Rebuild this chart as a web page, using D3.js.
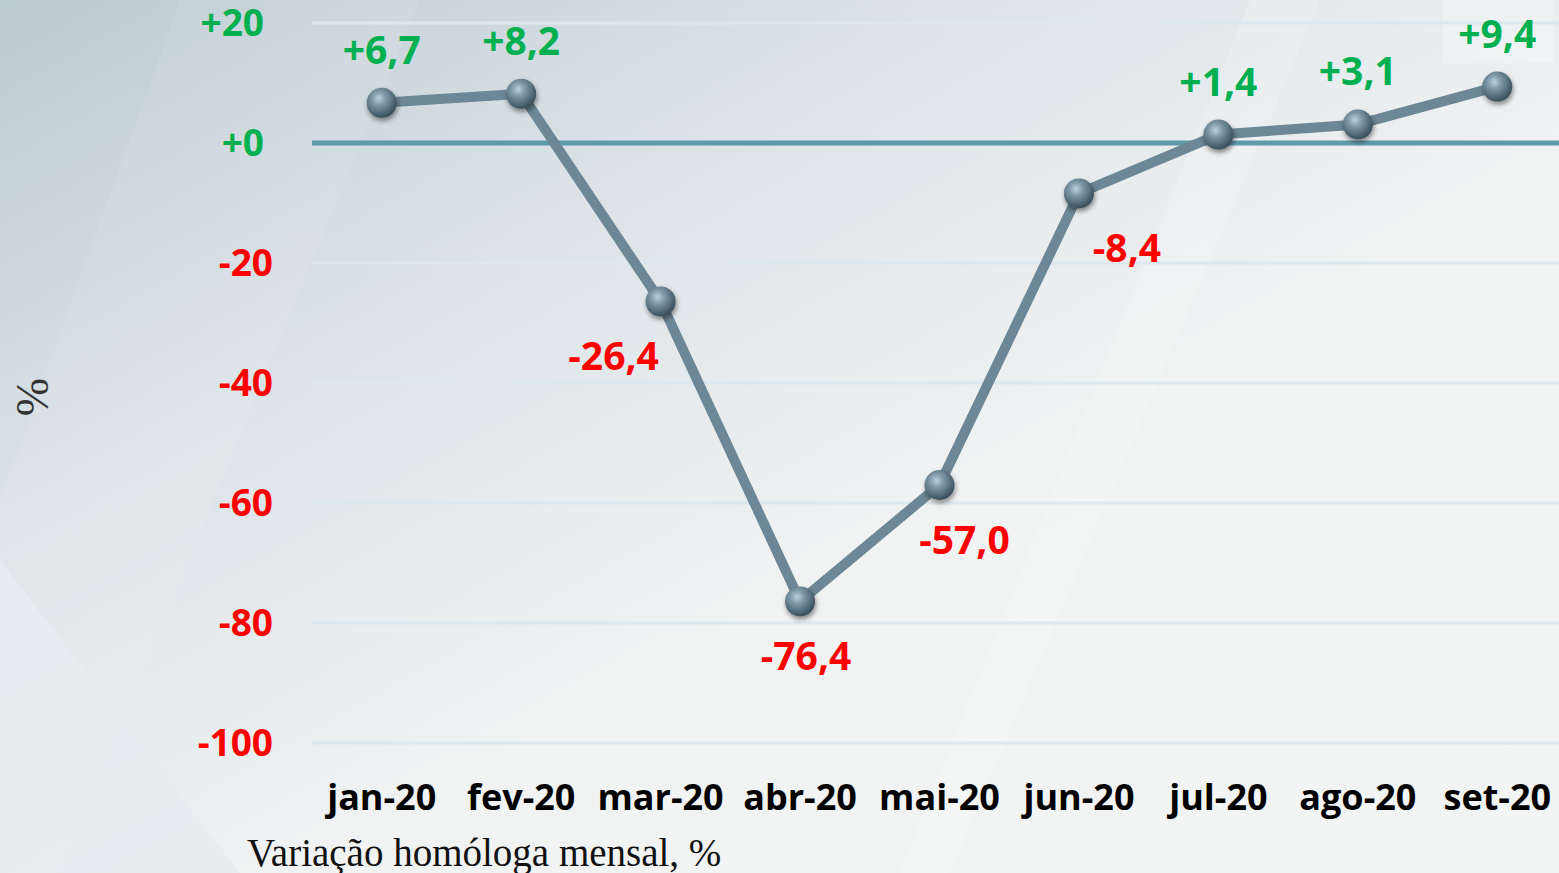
<!DOCTYPE html>
<html>
<head>
<meta charset="utf-8">
<script src="https://cdn.jsdelivr.net/npm/d3@7"></script>
<style>
body { margin: 0; overflow: hidden; }
svg { display: block; }
</style>
</head>
<body>
<svg width="1559" height="873"></svg>
<script>
var months = ["jan-20", "fev-20", "mar-20", "abr-20", "mai-20", "jun-20", "jul-20", "ago-20", "set-20"];
var values = [6.7, 8.2, -26.4, -76.4, -57.0, -8.4, 1.4, 3.1, 9.4];
var yTicks = [20, 0, -20, -40, -60, -80, -100];
// label nudges (layout only)
var labelDx = [0, 0, -47, 6, 25, 48, 0, 0, 0];

var svg = d3.select("svg"),
    W = +svg.attr("width"),
    H = +svg.attr("height");

var defs = svg.append("defs");

var bg = defs.append("linearGradient").attr("id", "bg")
  .attr("x1", "0%").attr("y1", "0%").attr("x2", "100%").attr("y2", "100%");
bg.append("stop").attr("offset", "0%").attr("stop-color", "#bccad2");
bg.append("stop").attr("offset", "30%").attr("stop-color", "#dbe3e7");
bg.append("stop").attr("offset", "60%").attr("stop-color", "#f1f3f3");
bg.append("stop").attr("offset", "100%").attr("stop-color", "#f3f4f4");

var ball = defs.append("radialGradient").attr("id", "ball")
  .attr("cx", "40%").attr("cy", "35%").attr("r", "65%");
ball.append("stop").attr("offset", "0%").attr("stop-color", "#b9d2dc");
ball.append("stop").attr("offset", "35%").attr("stop-color", "#7f9aa7");
ball.append("stop").attr("offset", "80%").attr("stop-color", "#4e6673");
ball.append("stop").attr("offset", "100%").attr("stop-color", "#3a4f5a");

var sh = defs.append("filter").attr("id", "shadow")
  .attr("x", "-50%").attr("y", "-50%").attr("width", "200%").attr("height", "200%");
sh.append("feDropShadow").attr("dx", 1).attr("dy", 3).attr("stdDeviation", 2.5)
  .attr("flood-color", "#000").attr("flood-opacity", 0.45);

svg.append("rect").attr("width", W).attr("height", H).attr("fill", "url(#bg)");
// soft streaks in the backdrop
svg.append("path").attr("d", "M0,560 L240,873 L0,873 Z").attr("fill", "#e6ecef").attr("opacity", 0.7);
svg.append("path").attr("d", "M180,0 L420,0 L60,873 L0,873 L0,500 Z").attr("fill", "#ffffff").attr("opacity", 0.08);
svg.append("path").attr("d", "M1250,0 L1320,0 L950,873 L900,873 Z").attr("fill", "#ffffff").attr("opacity", 0.18);
svg.append("rect").attr("x", 1443).attr("y", 0).attr("width", 110).attr("height", 63)
  .attr("fill", "#ffffff").attr("opacity", 0.25);

var x = d3.scaleBand().domain(months).range([312, 1567]);
var y = d3.scaleLinear().domain([-100, 20]).range([743, 23]);
function cx(d) { return x(d) + x.bandwidth() / 2; }

// grid
svg.append("g").selectAll("line")
  .data(yTicks.filter(function(t) { return t !== 0; }))
  .enter().append("line")
  .attr("x1", 312).attr("x2", W)
  .attr("y1", function(d) { return y(d); })
  .attr("y2", function(d) { return y(d); })
  .attr("stroke", "#dde8ee").attr("stroke-width", 3);

svg.append("line")
  .attr("x1", 312).attr("x2", W)
  .attr("y1", y(0)).attr("y2", y(0))
  .attr("stroke", "#5f9aab").attr("stroke-width", 5);

// y labels
svg.append("g").selectAll("text")
  .data(yTicks).enter().append("text")
  .attr("x", function(d) { return d >= 0 ? 264 : 273; })
  .attr("y", function(d) { return y(d) + 13; })
  .attr("text-anchor", "end")
  .attr("font-family", "Open Sans, sans-serif").attr("font-weight", 700)
  .attr("font-size", 37)
  .attr("fill", function(d) { return d >= 0 ? "#00b050" : "#ff0000"; })
  .text(function(d) { return (d >= 0 ? "+" : "") + d; });

// x labels
svg.append("g").selectAll("text")
  .data(months).enter().append("text")
  .attr("x", function(d) { return cx(d); })
  .attr("y", 810)
  .attr("text-anchor", "middle")
  .attr("font-family", "Open Sans, sans-serif").attr("font-weight", 700)
  .attr("font-size", 36).attr("fill", "#000")
  .text(function(d) { return d; });

// line
var line = d3.line()
  .x(function(d, i) { return cx(months[i]); })
  .y(function(d) { return y(d); });

svg.append("path").datum(values)
  .attr("d", line).attr("fill", "none")
  .attr("stroke", "#6c8795").attr("stroke-width", 10)
  .attr("stroke-linejoin", "round");

svg.append("g").selectAll("circle")
  .data(values).enter().append("circle")
  .attr("cx", function(d, i) { return cx(months[i]); })
  .attr("cy", function(d) { return y(d); })
  .attr("r", 15)
  .attr("fill", "url(#ball)")
  .attr("filter", "url(#shadow)");

// value labels
var fmt = function(v) {
  return (v >= 0 ? "+" : "-") + Math.abs(v).toFixed(1).replace(".", ",");
};
svg.append("g").selectAll("text")
  .data(values).enter().append("text")
  .attr("x", function(d, i) { return cx(months[i]) + labelDx[i]; })
  .attr("y", function(d) { return d >= 0 ? y(d) - 39 : y(d) + 69; })
  .attr("text-anchor", "middle")
  .attr("font-family", "Open Sans, sans-serif").attr("font-weight", 700)
  .attr("font-size", 39)
  .attr("fill", function(d) { return d >= 0 ? "#00b050" : "#ff0000"; })
  .text(fmt);

// axis title and caption
svg.append("text")
  .attr("transform", "translate(48,397) rotate(-90)")
  .attr("text-anchor", "middle")
  .attr("font-family", "Liberation Serif, serif")
  .attr("font-size", 46).attr("fill", "#333")
  .text("%");

svg.append("text")
  .attr("x", 247).attr("y", 866)
  .attr("font-family", "Liberation Serif, serif")
  .attr("font-size", 39).attr("fill", "#111")
  .text("Variação homóloga mensal, %");
</script>
</body>
</html>
